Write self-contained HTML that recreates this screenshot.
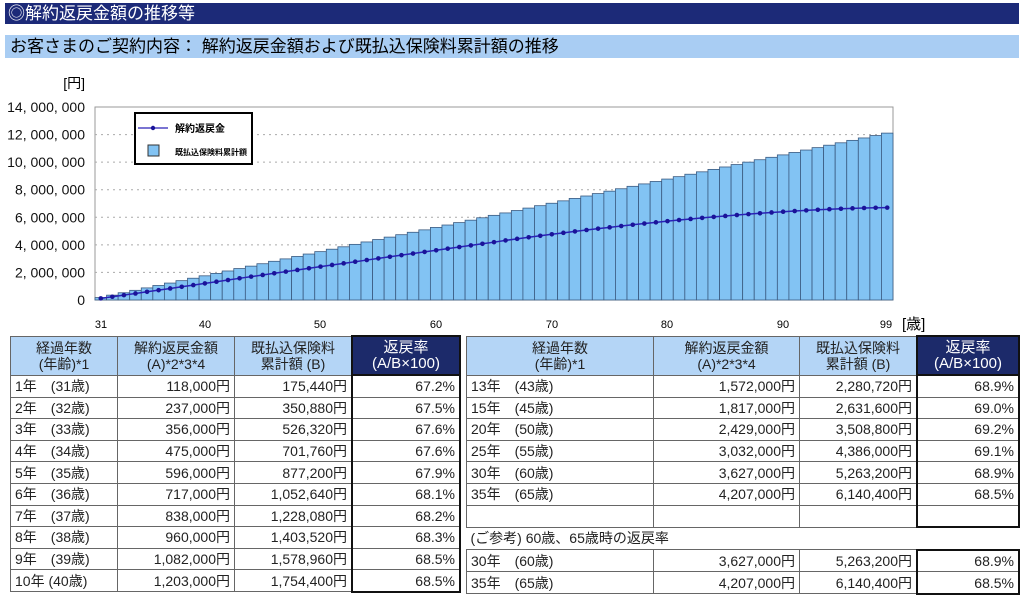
<!DOCTYPE html><html><head><meta charset="utf-8"><style>
body{margin:0;width:1024px;height:595px;background:#fff;font-family:"Liberation Sans","Noto Sans CJK JP",sans-serif;position:relative;overflow:hidden}
.h1{position:absolute;left:5px;top:3px;width:1014px;height:21px;background:#1c2a78;color:#fff;font-size:17px;line-height:21px;padding-left:3px;box-sizing:border-box}
.h2{position:absolute;left:5px;top:35px;width:1014px;height:23px;background:#a9cdf3;color:#000;font-size:17px;line-height:23px;padding-left:5px;box-sizing:border-box}
table{position:absolute;border-collapse:collapse;font-size:14px;color:#222}
td,th{border:1px solid #666;padding:0 4px;height:20.6px;white-space:nowrap;line-height:16px}
th{background:#b4d5f6;font-weight:normal;line-height:16px;height:37px;font-size:14px}
th.d{background:#1c2a6a;color:#fff;border:2px solid #111;font-size:15px}
td.r{text-align:right}
td.k{border-left:2px solid #111;border-right:2px solid #111}
tr:last-child td.k{border-bottom:2px solid #111}
</style></head><body>
<div class="h1">◎解約返戻金額の推移等</div>
<div class="h2">お客さまのご契約内容： 解約返戻金額および既払込保険料累計額の推移</div>
<svg id="c" width="1024" height="335" style="position:absolute;left:0;top:0" font-family="Liberation Sans, Noto Sans CJK JP, sans-serif"></svg>
<table style="left:10px;top:335px;width:451px">
<tr><th style="width:98px">経過年数<br>(年齢)*1</th><th style="width:108px">解約返戻金額<br>(A)*2*3*4</th><th style="width:108px">既払込保険料<br>累計額 (B)</th><th class="d">返戻率<br>(A/B×100)</th></tr>
<tr><td>1年　(31歳)</td><td class="r">118,000円</td><td class="r">175,440円</td><td class="r k">67.2%</td></tr>
<tr><td>2年　(32歳)</td><td class="r">237,000円</td><td class="r">350,880円</td><td class="r k">67.5%</td></tr>
<tr><td>3年　(33歳)</td><td class="r">356,000円</td><td class="r">526,320円</td><td class="r k">67.6%</td></tr>
<tr><td>4年　(34歳)</td><td class="r">475,000円</td><td class="r">701,760円</td><td class="r k">67.6%</td></tr>
<tr><td>5年　(35歳)</td><td class="r">596,000円</td><td class="r">877,200円</td><td class="r k">67.9%</td></tr>
<tr><td>6年　(36歳)</td><td class="r">717,000円</td><td class="r">1,052,640円</td><td class="r k">68.1%</td></tr>
<tr><td>7年　(37歳)</td><td class="r">838,000円</td><td class="r">1,228,080円</td><td class="r k">68.2%</td></tr>
<tr><td>8年　(38歳)</td><td class="r">960,000円</td><td class="r">1,403,520円</td><td class="r k">68.3%</td></tr>
<tr><td>9年　(39歳)</td><td class="r">1,082,000円</td><td class="r">1,578,960円</td><td class="r k">68.5%</td></tr>
<tr><td>10年 (40歳)</td><td class="r">1,203,000円</td><td class="r">1,754,400円</td><td class="r k">68.5%</td></tr>
</table>
<table style="left:466px;top:335px;width:554px">
<tr><th style="width:178px">経過年数<br>(年齢)*1</th><th style="width:137px">解約返戻金額<br>(A)*2*3*4</th><th style="width:108px">既払込保険料<br>累計額 (B)</th><th class="d">返戻率<br>(A/B×100)</th></tr>
<tr><td>13年　(43歳)</td><td class="r">1,572,000円</td><td class="r">2,280,720円</td><td class="r k">68.9%</td></tr>
<tr><td>15年　(45歳)</td><td class="r">1,817,000円</td><td class="r">2,631,600円</td><td class="r k">69.0%</td></tr>
<tr><td>20年　(50歳)</td><td class="r">2,429,000円</td><td class="r">3,508,800円</td><td class="r k">69.2%</td></tr>
<tr><td>25年　(55歳)</td><td class="r">3,032,000円</td><td class="r">4,386,000円</td><td class="r k">69.1%</td></tr>
<tr><td>30年　(60歳)</td><td class="r">3,627,000円</td><td class="r">5,263,200円</td><td class="r k">68.9%</td></tr>
<tr><td>35年　(65歳)</td><td class="r">4,207,000円</td><td class="r">6,140,400円</td><td class="r k">68.5%</td></tr>
<tr><td></td><td></td><td></td><td class="k" style="border-bottom:2px solid #111"></td></tr>
<tr><td colspan="4" style="border:none;border-left:none;padding-left:4px">(ご参考) 60歳、65歳時の返戻率</td></tr>
<tr><td>30年　(60歳)</td><td class="r">3,627,000円</td><td class="r">5,263,200円</td><td class="r k" style="border-top:2px solid #111">68.9%</td></tr>
<tr><td>35年　(65歳)</td><td class="r">4,207,000円</td><td class="r">6,140,400円</td><td class="r k">68.5%</td></tr>
</table>
<script>
var s='',L=95,R=893,T=107,B=300,w=(R-L)/69,k=(B-T)/14e6;
s+='<rect x="'+L+'" y="'+T+'" width="'+(R-L)+'" height="'+(B-T)+'" fill="#fff" stroke="#999"/>';
for(var i=1;i<7;i++){var y=B-i*2e6*k;s+='<line x1="'+L+'" x2="'+R+'" y1="'+y+'" y2="'+y+'" stroke="#aaa" stroke-dasharray="2,4"/>';}
for(i=0;i<=7;i++){var y=B-i*2e6*k;var t=i==0?'0':(i*2)+', 000, 000';s+='<text x="85" y="'+(y+5)+'" font-size="14" text-anchor="end" fill="#111">'+t+'</text>';}
s+='<text x="85" y="88" font-size="14" text-anchor="end">[円]</text>';
var pts=[];
for(i=0;i<69;i++){var a=31+i,v=175440*(i+1),x=L+i*w;
s+='<rect x="'+x+'" y="'+(B-v*k)+'" width="'+w+'" height="'+(v*k)+'" fill="#82c3f3" stroke="#3a5a80" stroke-width="0.8"/>';
var r=0.672+0.018*Math.min(1,(a-31)/12)-0.007*Math.max(0,(a-50)/15);
var rv=a<=65?v*r:4207000+(6700000-4207000)*(1-Math.pow(1-(a-65)/34,1.6));
pts.push([x+w/2,B-rv*k]);}
s+='<polyline fill="none" stroke="#2a22b8" stroke-width="1.5" points="'+pts.map(function(p){return p.join(',')}).join(' ')+'"/>';
pts.forEach(function(p){s+='<circle cx="'+p[0]+'" cy="'+p[1]+'" r="2.3" fill="#1a1499"/>';});
[[31,101],[40,205],[50,320],[60,436],[70,552],[80,667],[90,783],[99,886]].forEach(function(q){s+='<text x="'+q[1]+'" y="328" font-size="11" text-anchor="middle">'+q[0]+'</text>';});
s+='<text x="902" y="329" font-size="15">[歳]</text>';
s+='<rect x="135" y="113" width="117" height="51" fill="#fff" stroke="#000" stroke-width="2"/>';
s+='<line x1="138" x2="168" y1="128" y2="128" stroke="#2a22b8" stroke-width="1.2"/><circle cx="153" cy="128" r="2.2" fill="#1a1499"/>';
s+='<text x="175" y="132" font-size="10" font-weight="bold">解約返戻金</text>';
s+='<rect x="148" y="145" width="11" height="11" fill="#82c3f3" stroke="#333"/>';
s+='<text x="175" y="155" font-size="8" font-weight="bold">既払込保険料累計額</text>';
document.getElementById('c').innerHTML=s;
</script>
</body></html>
